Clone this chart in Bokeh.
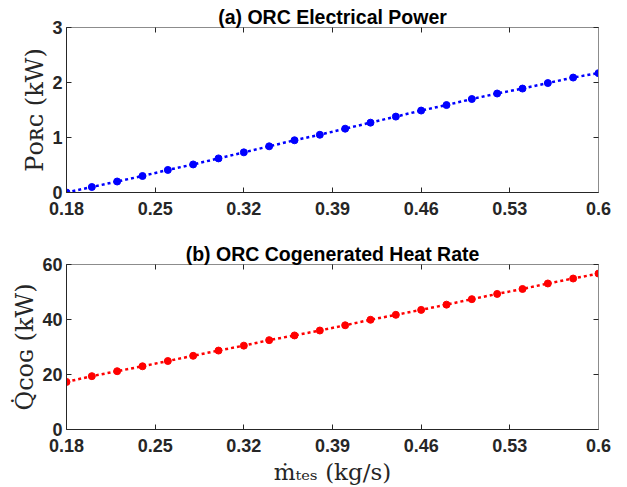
from bokeh.plotting import figure
from bokeh.models import Range1d, FixedTicker, LinearAxis, ColumnDataSource
from bokeh.layouts import column
from bokeh.embed import file_html
from bokeh.resources import INLINE

# ---------------- data ----------------
m_tes = [0.18, 0.20, 0.22, 0.24, 0.26, 0.28, 0.30, 0.32, 0.34, 0.36, 0.38,
         0.40, 0.42, 0.44, 0.46, 0.48, 0.50, 0.52, 0.54, 0.56, 0.58, 0.60]
p_orc = [0.00, 0.10, 0.20, 0.30, 0.41, 0.51, 0.62, 0.73, 0.84, 0.95, 1.05,
         1.16, 1.27, 1.38, 1.49, 1.59, 1.70, 1.80, 1.89, 1.99, 2.09, 2.17]
q_cog = [17.3, 19.4, 21.2, 23.0, 24.9, 26.8, 28.7, 30.5, 32.5, 34.2, 36.0,
         37.9, 39.9, 41.7, 43.5, 45.4, 47.4, 49.3, 51.1, 53.1, 54.9, 56.7]

x_ticks = [0.18, 0.25, 0.32, 0.39, 0.46, 0.53, 0.6]
x_tick_labels = ["0.18", "0.25", "0.32", "0.39", "0.46", "0.53", "0.6"]
p_ticks = [0, 1, 2, 3]
q_ticks = [0, 20, 40, 60]

title_a = "(a) ORC Electrical Power"
title_b = "(b) ORC Cogenerated Heat Rate"
ylabel_a = "P\u1d0f\u0280\u1d04 (kW)"
ylabel_b = "Q\u0307\u1d04\u1d0f\u0262 (kW)"
xlabel = "\u1e41\u209c\u2091\u209b (kg/s)"

SANS = "Liberation Sans"
SERIF = "DejaVu Serif"
DARK = "#262626"
GRAY = "#8c8c8c"


def box_axis(ticks):
    return LinearAxis(ticker=FixedTicker(ticks=ticks),
                      major_label_overrides={t: "" for t in ticks},
                      major_tick_in=5, major_tick_out=0, minor_tick_line_color=None,
                      axis_line_color=GRAY, major_tick_line_color=DARK,
                      major_label_standoff=0, major_label_text_font_size="1px")


def make_fig(height, top, bottom, ymax, yticks, title, ylabel, xlab=None):
    p = figure(width=627, height=height, output_backend="svg", toolbar_location=None,
               x_range=Range1d(0.18, 0.6), y_range=Range1d(0, ymax),
               min_border_left=66, min_border_right=29,
               min_border_top=top, min_border_bottom=bottom, title=title)
    p.outline_line_color = None
    p.grid.visible = False
    p.background_fill_color = "white"
    p.border_fill_color = "white"
    p.title.align = "center"
    p.title.text_font = SANS
    p.title.text_font_style = "bold"
    p.title.text_font_size = "19.5px"
    p.title.text_color = "black"
    p.title.standoff = 0
    overrides = {t: s for t, s in zip(x_ticks, x_tick_labels)}
    for ax in p.xaxis:
        ax.ticker = FixedTicker(ticks=x_ticks)
        ax.major_label_overrides = overrides
    for ax in p.yaxis:
        ax.ticker = FixedTicker(ticks=yticks)
    for ax in list(p.xaxis) + list(p.yaxis):
        ax.minor_tick_line_color = None
        ax.major_tick_in = 5
        ax.major_tick_out = 0
        ax.axis_line_color = DARK
        ax.major_tick_line_color = DARK
        ax.major_label_text_font = SANS
        ax.major_label_text_font_style = "bold"
        ax.major_label_text_font_size = "18px"
        ax.major_label_text_color = DARK
        ax.axis_label_text_font = SERIF
        ax.axis_label_text_font_style = "normal"
        ax.axis_label_text_color = DARK
    p.xaxis.major_label_standoff = 9
    p.yaxis.major_label_standoff = 4
    p.yaxis.axis_label = ylabel
    p.yaxis.axis_label_standoff = 0
    p.yaxis.axis_label_text_font_size = "24px"
    if xlab:
        p.xaxis.axis_label = xlab
        p.xaxis.axis_label_standoff = 4
        p.xaxis.axis_label_text_font_size = "23px"
    p.add_layout(box_axis(x_ticks), "above")
    p.add_layout(box_axis(yticks), "right")
    return p


# ---------------- top: ORC electrical power ----------------
p1 = make_fig(240, 27, 48, 3, p_ticks, title_a, ylabel_a)
src1 = ColumnDataSource(dict(x=m_tes, y=p_orc))
p1.line("x", "y", source=src1, line_color="#0000ff", line_width=2.5, line_dash="3 3")
p1.scatter("x", "y", source=src1, size=7, color="#0000ff")

# ---------------- bottom: cogenerated heat ----------------
p2 = make_fig(247, 24, 58, 60, q_ticks, title_b, ylabel_b, xlabel)
src2 = ColumnDataSource(dict(x=m_tes, y=q_cog))
p2.line("x", "y", source=src2, line_color="#ff0000", line_width=2.5, line_dash="3 3")
p2.scatter("x", "y", source=src2, size=7, color="#ff0000")

layout = column(p1, p2, spacing=0)
open("out.html", "w").write(file_html(layout, INLINE))
